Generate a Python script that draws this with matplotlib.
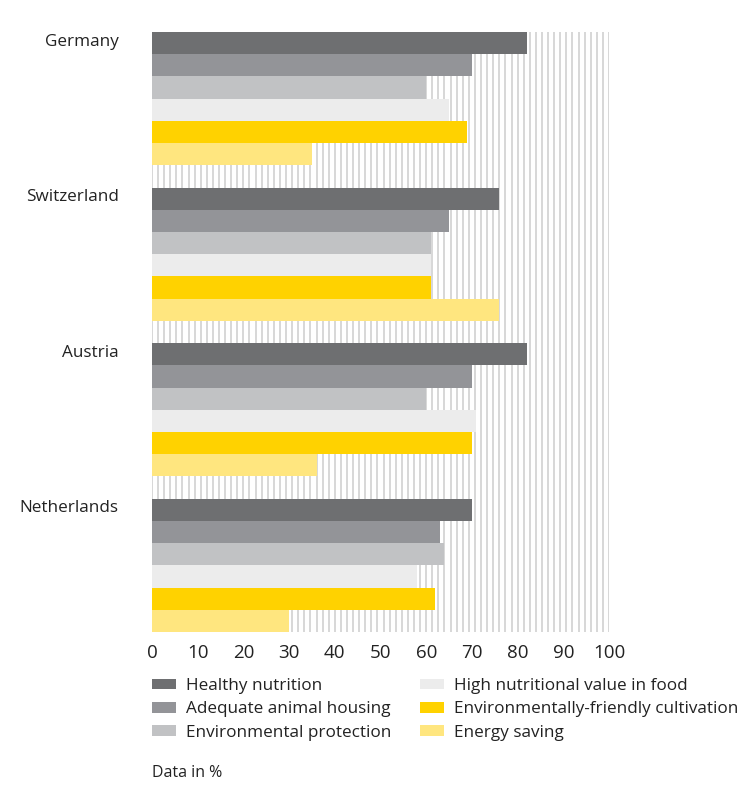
import matplotlib
matplotlib.use("Agg")
import matplotlib.pyplot as plt
import numpy as np
from matplotlib.patches import Patch

countries = ["Germany", "Switzerland", "Austria", "Netherlands"]
series = ["Healthy nutrition", "Adequate animal housing", "Environmental protection",
          "High nutritional value in food", "Environmentally-friendly cultivation", "Energy saving"]
healthy = [82, 76, 82, 70]
housing = [70, 65, 70, 63]
env_protection = [60, 61, 60, 64]
high_value = [65, 61, 71, 58]
env_friendly = [69, 61, 70, 62]
energy = [35, 76, 36, 30]
values = [healthy, housing, env_protection, high_value, env_friendly, energy]
colors = ["#6e6f71", "#939498", "#c1c2c4", "#ececec", "#ffd200", "#ffe67f"]
xticks = [0, 10, 20, 30, 40, 50, 60, 70, 80, 90, 100]

plt.rcParams['font.family'] = ['Open Sans', 'DejaVu Sans']
TXT = "#222222"
fig = plt.figure(figsize=(7.39, 7.85), dpi=100)
ax = fig.add_axes([152/739, 1-632/785, (609-152)/739, 600/785])

# background vertical stripes
for xv in np.linspace(0, 100, 76):
    ax.axvline(xv, color="#d4d4d4", lw=1.3, zorder=0)

group = 7
for s, (vals, c) in enumerate(zip(values, colors)):
    ys = [g*group + s for g in range(len(countries))]
    ax.barh(ys, vals, height=1.0, color=c, zorder=2, label=series[s])

ax.set_ylim(len(countries)*group - 1 - 0.5, -0.5)
ax.set_xlim(0, 100)
ax.set_yticks([g*group - 0.15 for g in range(len(countries))])
ax.set_yticklabels(countries, fontsize=12.3, color=TXT)
ax.set_xticks(xticks)
ax.set_xticklabels([str(t) for t in xticks], fontsize=13.5, color=TXT)
ax.tick_params(axis='y', length=0, pad=24)
ax.tick_params(axis='x', length=0, pad=8.5)
for sp in ax.spines.values():
    sp.set_visible(False)

handles = [Patch(facecolor=c, edgecolor='none') for c in colors]
common = dict(loc='upper left', frameon=False, fontsize=12.3, handlelength=1.4, handleheight=0.6,
              handletextpad=0.6, labelspacing=0.43, borderaxespad=0, borderpad=0)
leg1 = fig.legend(handles[:3], series[:3], bbox_to_anchor=(152/739, 1-678/785), **common)
leg2 = fig.legend(handles[3:], series[3:], bbox_to_anchor=(420/739, 1-678/785), **common)
for leg in (leg1, leg2):
    for t in leg.get_texts():
        t.set_color(TXT)

fig.text(152/739, 1-773/785, "Data in %", fontsize=11.5, color=TXT, va='center', ha='left')

fig.savefig("out.png", dpi=100)
